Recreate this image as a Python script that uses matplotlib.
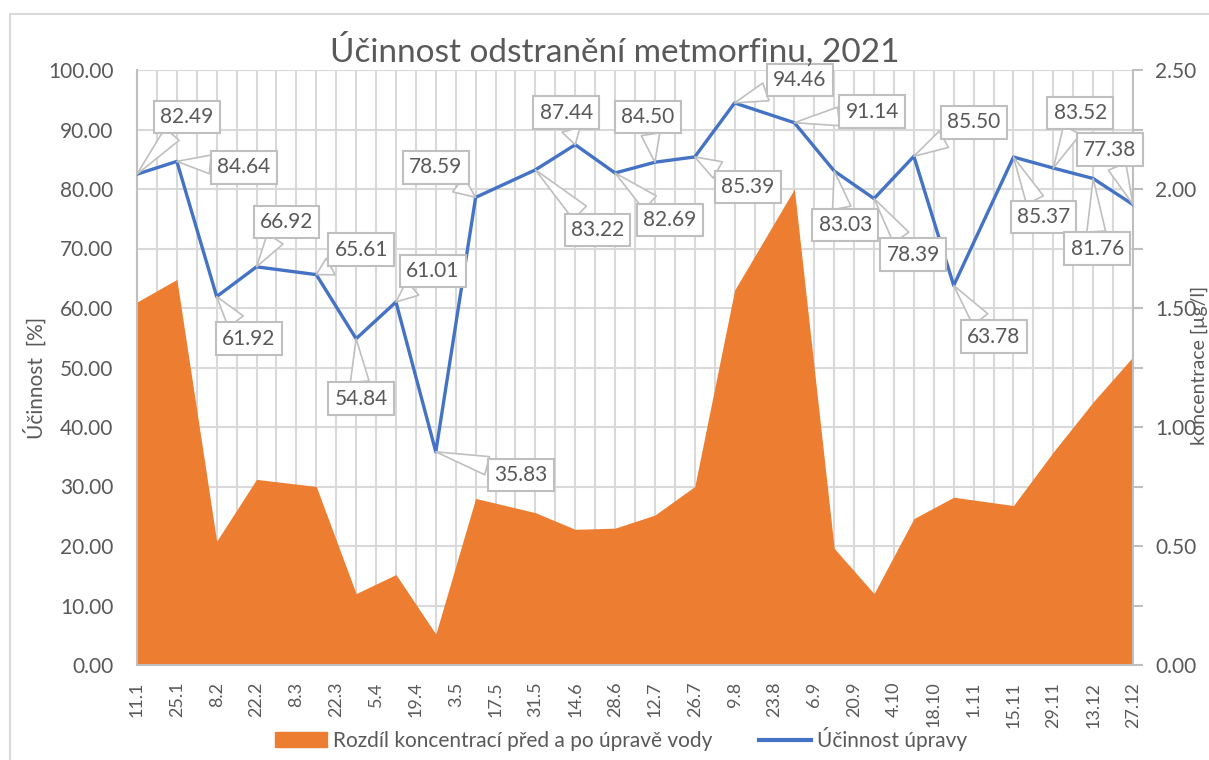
import numpy as np
import pandas as pd
import matplotlib
matplotlib.use("Agg")
import matplotlib.pyplot as plt
import matplotlib.dates as mdates
import matplotlib.ticker as mticker
from matplotlib.patches import Patch, Rectangle
from matplotlib.lines import Line2D

plt.rcParams['font.family'] = ['Lato', 'DejaVu Sans']

# sampling dates (day.month, 2021)
dates = ["11.1", "25.1", "8.2", "22.2", "15.3", "29.3", "12.4", "26.4", "10.5", "31.5",
         "14.6", "28.6", "12.7", "26.7", "9.8", "30.8", "13.9", "27.9", "11.10", "25.10",
         "15.11", "29.11", "13.12", "27.12"]
# removal efficiency [%]
ucinnost = [82.49, 84.64, 61.92, 66.92, 65.61, 54.84, 61.01, 35.83, 78.59, 83.22,
            87.44, 82.69, 84.50, 85.39, 94.46, 91.14, 83.03, 78.39, 85.50, 63.78,
            85.37, 83.52, 81.76, 77.38]
# concentration difference before / after treatment [ug/l]
rozdil = [1.525, 1.62, 0.52, 0.78, 0.75, 0.30, 0.38, 0.13, 0.70, 0.64,
          0.57, 0.575, 0.63, 0.75, 1.575, 2.00, 0.49, 0.30, 0.615, 0.705,
          0.67, 0.895, 1.105, 1.295]

# callout offsets in pixels (dx, dy) from the point
label_offsets = [(50, 57), (67, -6), (32, -42), (30, 45), (45, 25), (5, -60), (37, 31),
                 (85, -23), (-40, 30), (62, -60), (-9, 32), (55, -47), (-7, 45), (53, -30),
                 (65, 23), (78, 11), (11, -54), (39, -56), (60, 34), (40, -51), (30, -60),
                 (27, 55), (4, -70), (-23, 55)]

orange = '#ED7D31'
blue = '#4472C4'
grey_txt = '#595959'
grid_c = '#d9d9d9'

x = pd.to_datetime([d + ".2021" for d in dates], format="%d.%m.%Y")

fig = plt.figure(figsize=(12.09, 7.60), dpi=100)
fig.patches.append(Rectangle((10 / 1209, -0.02), 1.2, 1 - 14 / 760 + 0.02,
                             transform=fig.transFigure, fill=False, ec='#d9d9d9', lw=1.5))

ax_c = fig.add_axes([137 / 1209, 1 - 665 / 760, (1133 - 137) / 1209, (665 - 70) / 760])
ax_e = ax_c.twinx()

# concentration area (right axis)
ax_c.fill_between(x, rozdil, 0, color=orange, lw=0, zorder=2)
ax_c.set_ylim(0, 2.5)
ax_c.set_xlim(x[0], x[-1])
ax_c.yaxis.tick_right()
ax_c.yaxis.set_label_position('right')
ax_c.yaxis.set_major_locator(mticker.MultipleLocator(0.5))
ax_c.yaxis.set_minor_locator(mticker.MultipleLocator(0.25))
ax_c.yaxis.set_major_formatter(mticker.FormatStrFormatter('%.2f'))
ax_c.xaxis.set_major_locator(mticker.FixedLocator(mdates.date2num(pd.date_range(x[0], x[-1], freq='14D'))))
ax_c.xaxis.set_minor_locator(mticker.FixedLocator(mdates.date2num(pd.date_range(x[0], x[-1], freq='7D'))))
ax_c.xaxis.set_major_formatter(mticker.FuncFormatter(
    lambda v, pos: f"{mdates.num2date(v).day}.{mdates.num2date(v).month}"))
ax_c.set_axisbelow(True)
ax_c.grid(True, which='both', color=grid_c, lw=1.5)
ax_c.tick_params(axis='x', which='both', length=0, labelrotation=90, labelsize=13,
                 labelcolor=grey_txt, pad=12)
ax_c.tick_params(axis='y', which='major', length=7, width=1.5, color='#bfbfbf',
                 labelsize=15, labelcolor=grey_txt, pad=9)
ax_c.tick_params(axis='y', which='minor', length=7, width=1.5, color='#bfbfbf')
for s in ['left', 'bottom', 'right']:
    ax_c.spines[s].set_color('#bfbfbf')
    ax_c.spines[s].set_linewidth(1.5)
ax_c.spines['top'].set_visible(False)

# efficiency line (left axis)
ax_e.plot(x, ucinnost, color=blue, lw=2.4, zorder=3)
ax_e.set_ylim(0, 100)
ax_e.yaxis.tick_left()
ax_e.yaxis.set_major_locator(mticker.MultipleLocator(10))
ax_e.yaxis.set_major_formatter(mticker.FormatStrFormatter('%.2f'))
ax_e.tick_params(axis='y', length=0, labelsize=15, labelcolor=grey_txt, pad=17)
for s in ax_e.spines.values():
    s.set_visible(False)

for xi, yi, (dx, dy) in zip(x, ucinnost, label_offsets):
    ax_e.annotate(f"{yi:.2f}", xy=(xi, yi), xytext=(dx, dy), textcoords='offset pixels',
                  ha='center', va='center', fontsize=15, color=grey_txt,
                  annotation_clip=False, zorder=5,
                  bbox=dict(boxstyle='square,pad=0.3', fc='white', ec='#bfbfbf', lw=1.5),
                  arrowprops=dict(arrowstyle='wedge,tail_width=0.9', fc='white',
                                  ec='#bfbfbf', lw=1.2, shrinkA=0, shrinkB=0))

fig.text(615 / 1209, 1 - 50 / 760, "Účinnost odstranění metmorfinu, 2021",
         ha='center', va='center', fontsize=24, color=grey_txt)
fig.text(35 / 1209, 1 - 378 / 760, "Účinnost  [%]", rotation=90,
         ha='center', va='center', fontsize=15, color=grey_txt)
fig.text(1199 / 1209, 1 - 365 / 760, "koncentrace [µg/l]", rotation=90,
         ha='center', va='center', fontsize=14, color=grey_txt)

handles = [Patch(color=orange, label="Rozdíl koncentrací před a po úpravě vody"),
           Line2D([], [], color=blue, lw=3, label="Účinnost úpravy")]
fig.legend(handles=handles, loc='center', bbox_to_anchor=(621 / 1209, 1 - 739 / 760),
           ncol=2, frameon=False, fontsize=15, handlelength=2.5, columnspacing=2.2,
           handletextpad=0.3, labelcolor=grey_txt)

fig.savefig("out.png", dpi=100)
